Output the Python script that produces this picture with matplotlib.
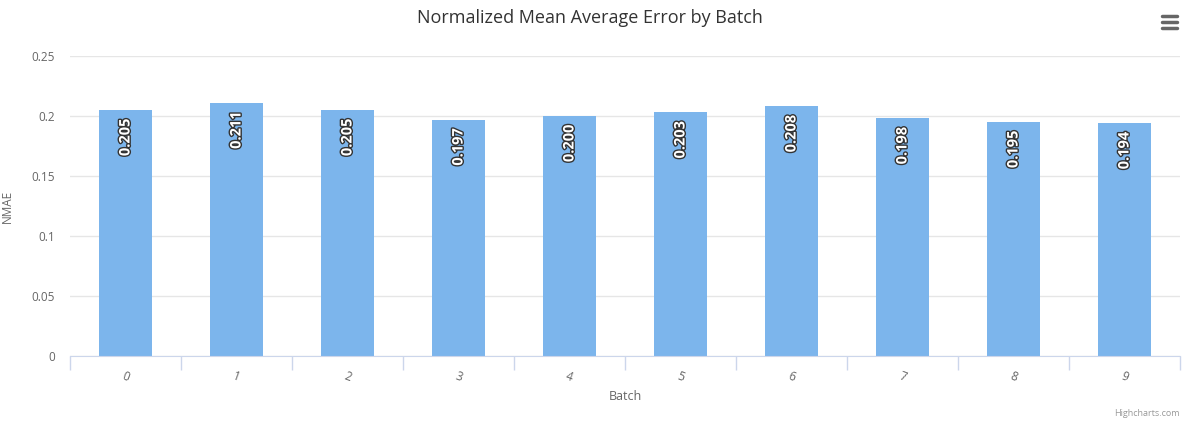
import matplotlib
matplotlib.use("Agg")
import matplotlib.pyplot as plt
import matplotlib.patheffects as pe
from matplotlib.lines import Line2D
import numpy as np

plt.rcParams['font.family'] = ['Open Sans', 'DejaVu Sans']

# values
batches = ['0', '1', '2', '3', '4', '5', '6', '7', '8', '9']
nmae = [0.205, 0.211, 0.205, 0.197, 0.200, 0.203, 0.208, 0.198, 0.195, 0.194]

bar_color = '#7cb5ec'
grid_color = '#e6e6e6'
axis_color = '#ccd6eb'
label_color = '#666666'

fig = plt.figure(figsize=(11.84, 4.25), dpi=100)
ax = fig.add_axes([70 / 1184, 1 - 356 / 425, 1110 / 1184, 300 / 425])

x = np.arange(len(batches))
ax.bar(x, nmae, width=0.48, color=bar_color, zorder=2)

for xi, v in zip(x, nmae):
    ax.annotate('%.3f' % v, (xi, v), xytext=(0, -6), textcoords='offset points',
                rotation=90, ha='center', va='top', fontsize=10.5, fontweight='bold',
                color='white', zorder=3,
                path_effects=[pe.withStroke(linewidth=2, foreground='#333333')])

ax.set_xlim(-0.5, len(batches) - 0.5)
ax.set_ylim(0, 0.25)
ax.set_yticks([0, 0.05, 0.1, 0.15, 0.2, 0.25])
ax.set_yticklabels(['0', '0.05', '0.1', '0.15', '0.2', '0.25'])
ax.yaxis.grid(True, color=grid_color, linewidth=1, zorder=0)
ax.set_axisbelow(True)

ax.set_xticks(x)
ax.set_xticklabels(batches, rotation=-20)
ax.set_xticks(np.arange(-0.5, len(batches)), minor=True)
ax.tick_params(axis='x', which='major', length=0, pad=10, labelsize=8.5, labelcolor=label_color)
ax.tick_params(axis='x', which='minor', length=10, width=1, color=axis_color)
ax.tick_params(axis='y', length=0, pad=11, labelsize=8.5, labelcolor=label_color)

for s in ['top', 'right', 'left']:
    ax.spines[s].set_visible(False)
ax.spines['bottom'].set_color(axis_color)

ax.set_xlabel('Batch', fontsize=9, color=label_color, labelpad=4)
ax.set_ylabel('NMAE', fontsize=8.5, color=label_color)
ax.yaxis.set_label_coords(-56 / 1110, 0.5)

fig.text(590 / 1184, 1 - 18 / 425, 'Normalized Mean Average Error by Batch',
         ha='center', va='center', fontsize=13, color='#333333')

# context menu icon
for yy in [16, 22, 28]:
    fig.add_artist(Line2D([1162 / 1184, 1177 / 1184], [1 - yy / 425] * 2,
                          color='#666666', linewidth=2.5, solid_capstyle='round'))

fig.text(1180 / 1184, 1 - 414 / 425, 'Highcharts.com', ha='right', va='center',
         fontsize=6.5, color='#999999')

fig.savefig('out.png', dpi=100)
